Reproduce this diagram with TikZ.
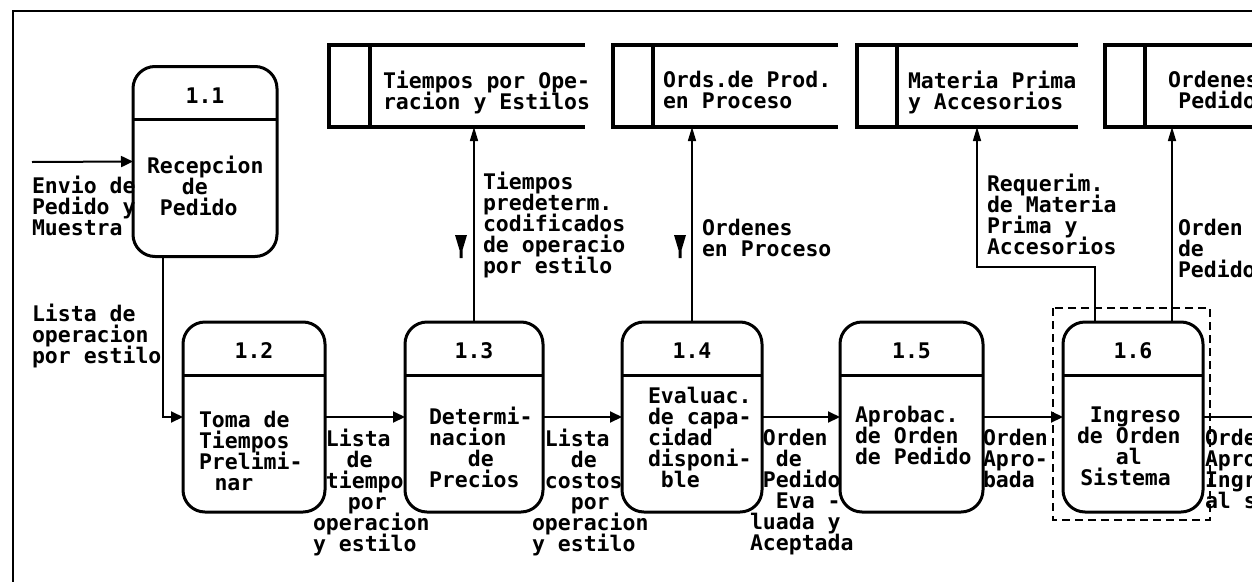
\documentclass[tikz,border=0pt]{standalone}
\usepackage{fontspec}
\setmonofont{DejaVu Sans Mono}
\usetikzlibrary{arrows.meta}
\newlength\cw \setlength\cw{12.94pt}
\newcommand\pad[1]{\hspace*{#1\cw}}
\newcommand\dfdfont{\ttfamily\bfseries\fontsize{21.5pt}{21pt}\selectfont\lineskiplimit=-50pt\lineskip=0pt}
\begin{document}
\begin{tikzpicture}[x=1pt,y=-1pt,
  lbl/.style={anchor=north west, inner sep=0pt, outer sep=0pt, align=left, font=\dfdfont, execute at begin node={\rule{0pt}{17pt}}},
  num/.style={inner sep=0pt, font=\dfdfont},
  proc/.style={draw, line width=3pt, rounded corners=22pt, minimum width=#1, minimum height=190pt, inner sep=0pt, outer sep=0pt},
  hdr/.style={line width=3pt},
  storebox/.style={draw=none, minimum height=82pt, inner sep=0pt, outer sep=0pt},
  storeline/.style={line width=3.5pt},
  flow/.style={line width=2pt, -{Triangle[length=12pt,width=11pt]}},
  vflow/.style={line width=1.5pt, -{Triangle[length=14pt,width=8pt]}},
  plain/.style={line width=2pt},
  frame/.style={line width=2pt},
  grp/.style={line width=1.8pt, dash pattern=on 8pt off 5pt}
]
\useasboundingbox (0,0) rectangle (1252,581);
\clip (0,0) rectangle (1252,581);
% frame
\draw[frame] (13,600) -- (13,11) -- (1270,11);

% processes
\node[proc=144pt] (p11) at (205,161.5) {};
\node[proc=142pt] (p12) at (254,417) {};
\node[proc=138pt] (p13) at (474,417) {};
\node[proc=140pt] (p14) at (692,417) {};
\node[proc=143pt] (p15) at (911.5,417) {};
\node[proc=140pt] (p16) at (1133,417) {};
\foreach \p/\n in {p11/1.1,p12/1.2,p13/1.3,p14/1.4,p15/1.5,p16/1.6}{
  \draw[hdr] ([yshift=-53pt]\p.north west) -- ([yshift=-53pt]\p.north east);
  \node[num] (n\p) at ([yshift=-29pt]\p.north) {\n};
}

% process texts
\node[lbl] (t11) at (147,156) {Recepcion\\\pad{2.7}de\\\pad{1}Pedido};
\node[lbl] (t12) at (199,411) {Toma de\\Tiempos\\Prelimi-\\\pad{1.2}nar};
\node[lbl] (t13) at (429,407) {Determi-\\nacion\\\pad{3}de\\Precios};
\node[lbl] (t14) at (648,387) {Evaluac.\\de capa-\\cidad\\disponi-\\\pad{1}ble};
\node[lbl] (t15) at (855,406) {Aprobac.\\de Orden\\de Pedido};
\node[lbl] (t16) at (1077,407) {\pad{1}Ingreso\\de Orden\\\pad{3}al\\\pad{0.25}Sistema};

% stores
\node[storebox, minimum width=256pt] (s1) at (457,86) {};
\node[storebox, minimum width=225pt] (s2) at (725.5,86) {};
\node[storebox, minimum width=221pt] (s3) at (967.5,86) {};
\node[storebox, minimum width=185pt] (s4) at (1197.5,86) {};
\foreach \s/\d in {s1/41,s2/40,s3/40,s4/40}{
  \draw[storeline] (\s.north east) -- (\s.north west) -- (\s.south west) -- (\s.south east);
  \draw[storeline] ([xshift=\d pt]\s.north west) -- ([xshift=\d pt]\s.south west);
}
\node[lbl] (ts1) at (383,71) {Tiempos por Ope-\\racion y Estilos};
\node[lbl] (ts2) at (663,71) {Ords.de Prod.\\en Proceso};
\node[lbl] (ts3) at (908,71) {Materia Prima\\y Accesorios};
\node[lbl] (ts4) at (1168,71) {Ordenes\\\pad{0.8}Pedido};

% group box around 1.6
\draw[grp] (1053,308) rectangle (1210,520);

% flows
\coordinate (in) at (32,162);
\coordinate (c1) at (163,417);
\coordinate (out) at (1270,417);
\coordinate (b1) at (1095,267);
\coordinate (b2) at (977,267);
\coordinate (b3) at (1172,300);
\draw[flow] (in) -- (p11.west);
\draw[flow] (p11.south -| c1) -- (c1) -- (p12.west);
\draw[flow] (p12.east) -- (p13.west);
\draw[flow] (p13.east) -- (p14.west);
\draw[flow] (p14.east) -- (p15.west);
\draw[flow] (p15.east) -- (p16.west);
\draw[plain] (p16.east) -- (out);
\draw[vflow] (p13.north) -- (s1.south -| p13.north);
\draw[vflow] (p14.north) -- (s2.south -| p14.north);
\draw[vflow] (p16.north -| b1) -- (b1) -- (b2) -- (s3.south -| b2);
\draw[vflow] (p16.north -| b3) -- (s4.south -| b3);

% direction marks
\foreach \mx in {461,680}{
  \fill (\mx-6,235) -- (\mx+6,235) -- (\mx+1.5,250) -- (\mx+1.5,258) -- (\mx-1.5,258) -- (\mx-1.5,250) -- cycle;
}

% flow labels
\node[lbl] (lin) at (32,176) {Envio de\\Pedido y\\Muestra};
\node[lbl] (l12) at (32,304) {Lista de\\operacion\\por estilo};
\node[lbl] (l13s) at (483,172) {Tiempos\\predeterm.\\codificados\\de operacio\\por estilo};
\node[lbl] (l14s) at (702,219) {Ordenes\\en Proceso};
\node[lbl] (l16s) at (987,174) {Requerim.\\de Materia\\Prima y\\Accesorios};
\node[lbl] (l16t) at (1178,219) {Orden\\de\\Pedido};
\node[lbl] (l23) at (313,429) {\pad{1}Lista\\\pad{2.6}de\\\pad{1}tiempo\\\pad{2.7}por\\operacion\\y estilo};
\node[lbl] (l34) at (532,429) {\pad{1}Lista\\\pad{3}de\\\pad{1}costos\\\pad{3}por\\operacion\\y estilo};
\node[lbl] (l45) at (750,429) {\pad{1}Orden\\\pad{2}de\\\pad{1}Pedido\\\pad{2}Eva -\\luada y\\Aceptada};
\node[lbl] (l56) at (983,429) {Orden\\Apro-\\bada};
\node[lbl] (l6o) at (1205,429) {Orde\\Apro\\Ingr\\al s};
\end{tikzpicture}
\end{document}
